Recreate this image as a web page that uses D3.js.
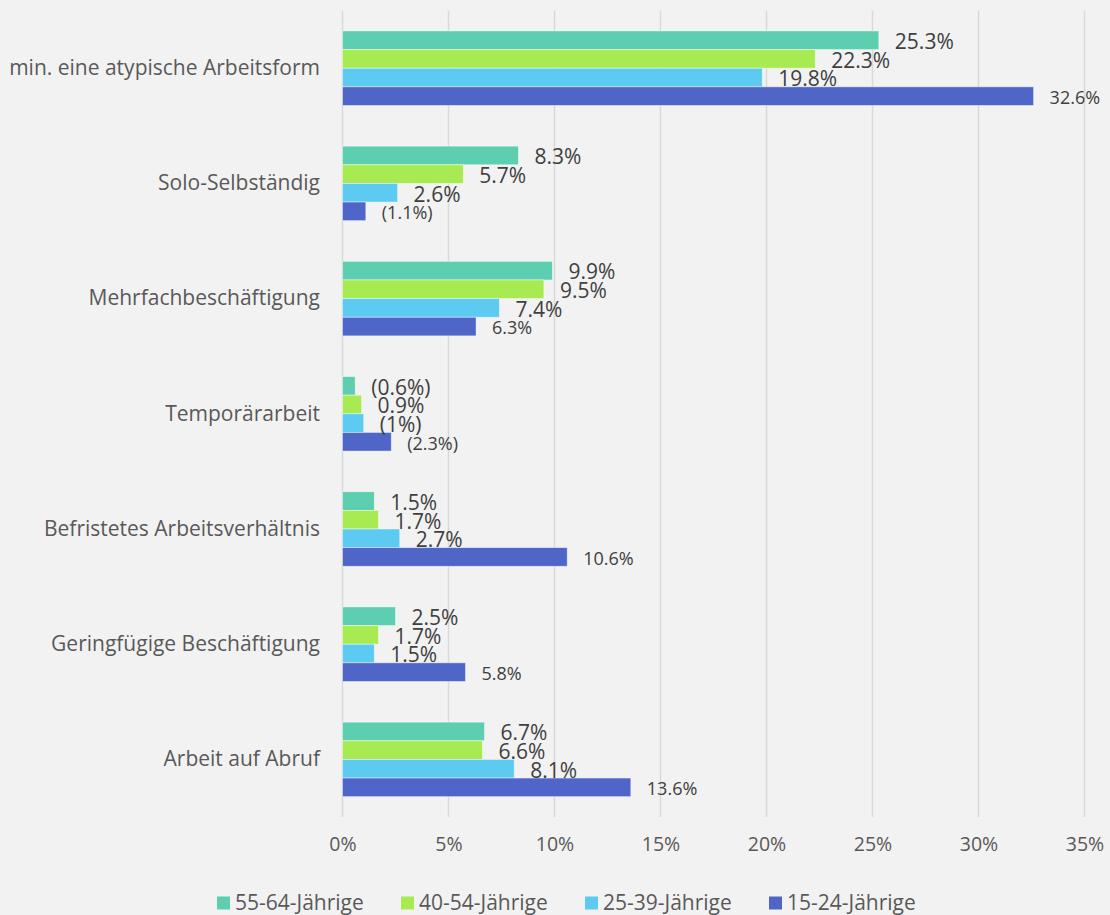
<!DOCTYPE html>
<html>
<head>
<meta charset="utf-8">
<script src="https://cdn.jsdelivr.net/npm/d3@7"></script>
<style>
  html, body { margin: 0; padding: 0; background: #f2f2f2; }
  svg { display: block; font-family: "Open Sans", sans-serif; }
</style>
</head>
<body>
<svg id="chart" width="1110" height="915"></svg>
<script>
// Categories (top to bottom) and age groups
const categories = [
  "min. eine atypische Arbeitsform",
  "Solo-Selbständig",
  "Mehrfachbeschäftigung",
  "Temporärarbeit",
  "Befristetes Arbeitsverhältnis",
  "Geringfügige Beschäftigung",
  "Arbeit auf Abruf"
];
const seriesNames = ["55-64-Jährige", "40-54-Jährige", "25-39-Jährige", "15-24-Jährige"];
const seriesColors = ["#5dcfb0", "#a8ea52", "#5ccaf1", "#4f66c8"];

// Shares in percent, one array per age group, in category order
const values5564 = [25.3, 8.3, 9.9, 0.6, 1.5, 2.5, 6.7];
const values4054 = [22.3, 5.7, 9.5, 0.9, 1.7, 1.7, 6.6];
const values2539 = [19.8, 2.6, 7.4, 1.0, 2.7, 1.5, 8.1];
const values1524 = [32.6, 1.1, 6.3, 2.3, 10.6, 5.8, 13.6];

// Values with limited reliability are shown in parentheses
const paren5564 = [false, false, false, true, false, false, false];
const paren4054 = [false, false, false, false, false, false, false];
const paren2539 = [false, false, false, true, false, false, false];
const paren1524 = [false, true, false, true, false, false, false];

const tickValues = [0, 5, 10, 15, 20, 25, 30, 35];

const seriesValues = [values5564, values4054, values2539, values1524];
const seriesParen = [paren5564, paren4054, paren2539, paren1524];

const svg = d3.select("#chart");

const x = d3.scaleLinear().domain([0, 35]).range([342.5, 1084.5]);
const y = d3.scaleBand().domain(categories).range([10.6, 817]).paddingInner(0.353).paddingOuter(0.1765);
const ySub = d3.scaleBand().domain(seriesNames).range([0, y.bandwidth()]);

// Vertical gridlines
svg.append("g")
  .selectAll("line")
  .data(tickValues)
  .join("line")
  .attr("x1", d => x(d)).attr("x2", d => x(d))
  .attr("y1", 10.6).attr("y2", 817)
  .attr("stroke", "#d9d9d9")
  .attr("stroke-width", 1.5);

// X axis tick labels
const xAxis = d3.axisBottom(x).tickValues(tickValues).tickFormat(d => d + "%").tickSize(0).tickPadding(0);
const gx = svg.append("g").attr("transform", "translate(0,837)").call(xAxis);
gx.select(".domain").remove();
gx.selectAll("text")
  .attr("font-size", 19.5)
  .attr("font-family", "Open Sans, sans-serif")
  .attr("fill", "#595959")
  .attr("dy", "0.71em");

// Category labels
const yAxis = d3.axisLeft(y).tickSize(0).tickPadding(0);
const gy = svg.append("g").attr("transform", "translate(320,0)").call(yAxis);
gy.select(".domain").remove();
gy.selectAll("text")
  .attr("font-size", 21)
  .attr("font-family", "Open Sans, sans-serif")
  .attr("fill", "#595959");

// Bars and value labels
const rows = [];
categories.forEach((c, i) => {
  seriesNames.forEach((s, j) => {
    rows.push({ cat: c, series: s, si: j, value: seriesValues[j][i], paren: seriesParen[j][i] });
  });
});

const bars = svg.append("g");
bars.selectAll("rect")
  .data(rows)
  .join("rect")
  .attr("x", x(0))
  .attr("y", d => y(d.cat) + ySub(d.series))
  .attr("width", d => x(d.value) - x(0))
  .attr("height", ySub.bandwidth())
  .attr("fill", d => seriesColors[d.si])
  .attr("stroke", "#ffffff")
  .attr("stroke-opacity", 0.55)
  .attr("stroke-width", 0.8);

const fmt = d => (d.paren ? "(" : "") + d3.format(".1~f")(d.value) + "%" + (d.paren ? ")" : "");

svg.append("g")
  .selectAll("text")
  .data(rows)
  .join("text")
  .attr("x", d => x(d.value) + 16)
  .attr("y", d => y(d.cat) + ySub(d.series) + ySub.bandwidth() / 2 + 1.5)
  .attr("dy", "0.35em")
  .attr("font-size", d => d.si === 3 ? 18 : 21)
  .attr("fill", "#404040")
  .text(fmt);

// Legend
const legendX = [217, 401, 585, 769];
const legend = svg.append("g")
  .selectAll("g")
  .data(seriesNames)
  .join("g")
  .attr("transform", (d, i) => `translate(${legendX[i]},903)`);
legend.append("rect")
  .attr("x", 0).attr("y", -6.5)
  .attr("width", 13).attr("height", 13)
  .attr("fill", (d, i) => seriesColors[i]);
legend.append("text")
  .attr("x", 18).attr("dy", "0.35em")
  .attr("font-size", 21)
  .attr("fill", "#595959")
  .text(d => d);
</script>
</body>
</html>
